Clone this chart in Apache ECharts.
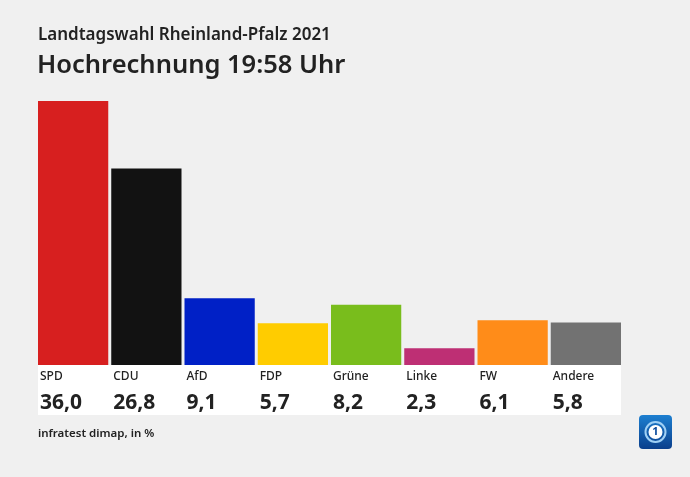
<!DOCTYPE html>
<html><head><meta charset="utf-8">
<script src="https://cdn.jsdelivr.net/npm/echarts@6/dist/echarts.min.js"></script>
<style>html,body{margin:0;padding:0;background:#f0f0f0}#c{width:690px;height:477px}</style>
</head><body><div id="c"></div>
<script>
const categories = ['SPD','CDU','AfD','FDP','Grüne','Linke','FW','Andere'];
const values = [36.0, 26.8, 9.1, 5.7, 8.2, 2.3, 6.1, 5.8];
const colors = ['#d71f1f','#121212','#0020c6','#ffcc00','#79bd1c','#be2f74','#ff8c19','#727272'];
const title1 = 'Landtagswahl Rheinland-Pfalz 2021';
const title2 = 'Hochrechnung 19:58 Uhr';
const source = 'infratest dimap, in %';

const FONT = '"Noto Sans", sans-serif';
const fmt = v => v.toFixed(1).replace('.', ',');

const chart = echarts.init(document.getElementById('c'));
chart.setOption({
  backgroundColor: '#f0f0f0',
  animation: false,
  textStyle: { fontFamily: FONT },
  title: [
    { text: title1, left: 38, top: 27, padding: 0, textStyle: { fontFamily: FONT, fontSize: 17, fontWeight: 600, color: '#222' } },
    { text: title2, left: 37, top: 53, padding: 0, textStyle: { fontFamily: FONT, fontSize: 25.5, fontWeight: 600, color: '#222' } },
    { text: source, left: 38, top: 428, padding: 0, textStyle: { fontFamily: FONT, fontSize: 11.5, fontWeight: 600, color: '#222' } }
  ],
  grid: [
    { left: 36.5, right: 67.5, top: 101, bottom: 112, containLabel: false },
    { left: 38, right: 69, top: 365, height: 50, show: true, backgroundColor: '#ffffff', borderWidth: 0 }
  ],
  xAxis: [
    { type: 'category', data: categories, gridIndex: 0, axisLine: { show: false }, axisTick: { show: false }, axisLabel: { show: false } },
    { type: 'category', data: categories, gridIndex: 1, show: false }
  ],
  yAxis: [
    { type: 'value', min: 0, max: 36, gridIndex: 0, show: false, splitLine: { show: false } },
    { type: 'value', gridIndex: 1, show: false }
  ],
  series: [{
    type: 'bar',
    xAxisIndex: 0, yAxisIndex: 0,
    barCategoryGap: '4.1%',
    data: values.map((v, i) => ({ value: v, itemStyle: { color: colors[i] } })),
    label: {
      show: true,
      position: [2, '100%'],
      distance: 0,
      align: 'left',
      verticalAlign: 'top',
      formatter: p => '{n|' + p.name + '}\n{v|' + fmt(p.value) + '}',
      rich: {
        n: { fontFamily: FONT, fontSize: 12, fontWeight: 500, color: '#222', lineHeight: 22, padding: [2, 0, 0, 0] },
        v: { fontFamily: FONT, fontSize: 21, fontWeight: 'bold', color: '#222', lineHeight: 32 }
      }
    }
  }],
  graphic: [{
    type: 'group', left: 639, top: 415,
    children: [
      { type: 'rect', shape: { x: 0, y: 0, width: 33, height: 34, r: 4 },
        style: { fill: new echarts.graphic.LinearGradient(0, 0, 0, 1, [{ offset: 0, color: '#1d7fd0' }, { offset: 1, color: '#0a3f8c' }]) } },
      { type: 'circle', shape: { cx: 16.5, cy: 17, r: 10 }, style: { fill: 'none', stroke: '#9fd0f5', lineWidth: 2 } },
      { type: 'circle', shape: { cx: 16.5, cy: 17, r: 7 }, style: { fill: '#ffffff' } },
      { type: 'text', style: { x: 16.5, y: 17, text: '1', align: 'center', verticalAlign: 'middle', fontSize: 11, fontWeight: 'bold', fill: '#0a4a9c', fontFamily: FONT } }
    ]
  }]
});
</script></body></html>
